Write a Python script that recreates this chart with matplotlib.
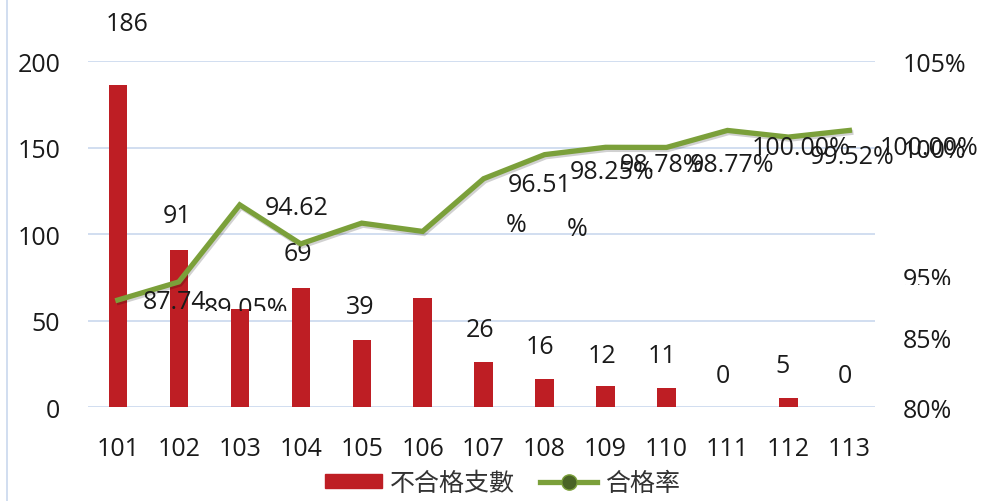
import matplotlib.pyplot as plt
import matplotlib.patheffects as pe
from matplotlib.lines import Line2D
from matplotlib.transforms import Bbox, TransformedBbox

plt.rcParams['font.family'] = ['Open Sans', 'Noto Sans CJK TC', 'DejaVu Sans']

# === данные ===
years = [101, 102, 103, 104, 105, 106, 107, 108, 109, 110, 111, 112, 113]
fail_count = [186, 91, 57, 69, 39, 63, 26, 16, 12, 11, 0, 5, 0]
pass_rate = [87.74, 89.05, 94.62, 91.8, 93.3, 92.7, 96.51, 98.25, 98.78, 98.77, 100.00, 99.52, 100.00]

# подписи столбцов (как в исходнике, со смещением)
bar_labels = [("186", 101.15, 222), ("91", 101.98, 111), ("69", 103.95, 89),
              ("39", 104.97, 58), ("26", 106.95, 45), ("16", 107.93, 35),
              ("12", 108.95, 30), ("11", 109.93, 30), ("0", 110.93, 18),
              ("5", 111.9, 24), ("0", 112.92, 18)]
# подписи линии (разъехались в исходнике)
line_labels = [("87.74", 101.93, 87.66), ("94.62", 103.93, 94.45),
               ("96.51", 107.92, 96.1), ("%", 107.54, 93.2), ("98.25%", 109.1, 97.05),
               ("%", 108.54, 92.9), ("98.78%", 109.92, 97.56), ("98.77%", 111.08, 97.56),
               ("100.00%", 112.2, 98.8), ("99.52%", 113.05, 98.1), ("100.00%", 114.3, 98.8)]
# подписи, обрезанные снизу: текст, x, y, нижняя граница (доля высоты фигуры)
clipped_labels = [("89.05%", 103.1, 87.1, 1 - 312 / 502)]
right_ticks = [80, 85, 98.8, 105]
right_labels = ["80%", "85%", "100%", "105%"]

FS = 18
fig = plt.figure(figsize=(9.85, 5.02), dpi=100)
ax = fig.add_axes([0.0893, 0.187, 0.7990, 0.689])
ax2 = ax.twinx()

ax.bar(years, fail_count, width=0.3, color="#BE1E24", zorder=2)
ax.set_ylim(0, 200)
ax.set_xlim(100.51, 113.42)
ax.set_yticks([0, 50, 100, 150, 200])
ax.set_xticks(years)
ax.grid(axis="y", color="#C9D8EE", linewidth=1.2, zorder=0)
ax.set_axisbelow(True)
for s in ax.spines.values():
    s.set_visible(False)
ax.tick_params(length=0, labelsize=FS, colors="#1a1a1a")
ax.tick_params(axis="y", pad=20)
ax.tick_params(axis="x", pad=21)

for t, x, y in bar_labels:
    ax.text(x, y, t, ha="center", va="center", fontsize=FS, color="#1a1a1a", clip_on=False)

ax2.plot(years, pass_rate, color="#7BA03A", linewidth=3.8, solid_joinstyle="miter",
         path_effects=[pe.SimpleLineShadow(offset=(1, -1.5), alpha=0.18), pe.Normal()], zorder=3)
ax2.set_ylim(80, 105)
ax2.set_yticks(right_ticks)
ax2.set_yticklabels(right_labels)
for s in ax2.spines.values():
    s.set_visible(False)
ax2.tick_params(length=0, labelsize=FS, colors="#1a1a1a", pad=20)

for t, x, y in line_labels:
    ax2.text(x, y, t, ha="center", va="center", fontsize=FS, color="#1a1a1a", clip_on=False)

for t, x, y, ybot in clipped_labels:
    txt = ax2.text(x, y, t, ha="center", va="center", fontsize=FS, color="#1a1a1a", clip_on=True)
    txt.set_clip_box(TransformedBbox(Bbox.from_extents(0, ybot, 1, 1), fig.transFigure))

# "95%" справа тоже обрезан снизу
t95 = fig.text(903 / 985, 1 - 281 / 502, "95%", ha="left", va="center", fontsize=FS,
               color="#1a1a1a", clip_on=True)
t95.set_clip_box(TransformedBbox(Bbox.from_extents(0, 1 - 286 / 502, 1, 1), fig.transFigure))

# легенда
handles = [plt.Rectangle((0, 0), 1, 1, color="#BE1E24"),
           Line2D([0], [0], color="#7BA03A", linewidth=3.8, marker="o", markersize=11,
                  markerfacecolor="#4A6426", markeredgecolor="#7BA03A")]
fig.legend(handles, ["不合格支數", "合格率"], loc="lower center", bbox_to_anchor=(0.51, -0.035),
           ncol=2, frameon=False, fontsize=FS, handlelength=2.3, handleheight=0.5,
           columnspacing=1.0, handletextpad=0.3, labelcolor="#333333")

fig.add_artist(Line2D([0.007, 0.007], [0, 1], color="#C9D8EE", linewidth=1.2))

fig.savefig("out.png", dpi=100)
